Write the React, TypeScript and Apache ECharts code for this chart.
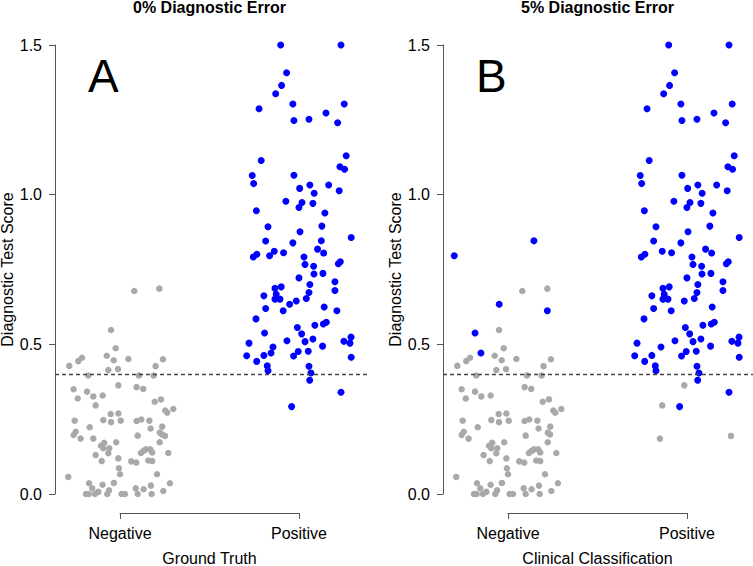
import React, { useEffect, useRef } from "react";
import * as echarts from "echarts";

// ---- data (x = jittered category position: 1 = Negative, 2 = Positive; y = score) ----
// true negatives that keep their class in panel B
const negStay: number[][] = [
  [1.080,0.678],[1.220,0.686],[0.950,0.548],[0.976,0.487],[0.926,0.462],[0.965,0.447],[1.047,0.451],
  [0.717,0.428],[0.767,0.444],[0.788,0.455],[1.240,0.450],[0.935,0.414],[0.989,0.417],[1.199,0.427],
  [0.823,0.396],[1.106,0.396],[1.188,0.396],[1.093,0.357],[1.130,0.351],[0.741,0.350],[0.816,0.342],
  [0.764,0.319],[0.851,0.326],[0.903,0.329],[1.194,0.308],[1.229,0.316],[1.253,0.279],[1.264,0.272],
  [1.298,0.284],[0.747,0.245],[0.907,0.247],[0.948,0.267],[0.991,0.269],[0.950,0.240],[1.004,0.245],
  [1.093,0.244],[1.119,0.249],[1.164,0.245],[0.831,0.223],[1.171,0.219],[1.236,0.225],[0.753,0.208],
  [0.741,0.197],[0.780,0.185],[1.099,0.195],[1.223,0.205],[1.235,0.199],[0.979,0.173],[0.912,0.171],
  [0.894,0.161],[0.907,0.153],[0.940,0.153],[1.222,0.173],[0.864,0.130],[0.935,0.136],[0.991,0.119],
  [0.898,0.110],[1.063,0.109],[1.091,0.105],[1.117,0.137],[1.132,0.144],[1.145,0.149],[1.169,0.149],
  [1.180,0.139],[1.158,0.112],[1.180,0.110],[1.270,0.137],[0.994,0.086],[1.000,0.066],[1.207,0.066],
  [0.711,0.057],[0.827,0.036],[0.845,0.019],[0.903,0.031],[0.966,0.037],[0.879,0.007],[0.939,0.012],
  [0.860,0],[0.810,0],[0.825,0],[0.929,0],[1.009,0],[1.028,0],[1.088,0.019],[1.132,0.016],
  [1.173,0.028],[1.099,0],[1.177,0],[1.242,0.010],[1.279,0.036],
];
// true negatives that are classified Positive in panel B
const negSwitched: number[][] = [[0.991,0.363],[0.864,0.296],[0.851,0.185],[1.251,0.194]];
const negSwitchedJitterB: number[] = [1.985, 1.862, 1.849, 2.246];

// true positives that keep their class in panel B
const posStay: number[][] = [
  [1.898,1.500],[2.235,1.500],[1.931,1.407],[1.903,1.365],[1.870,1.337],[1.777,1.287],[1.966,1.303],
  [2.253,1.303],[1.972,1.248],[2.056,1.252],[2.151,1.273],[2.216,1.240],[1.789,1.114],[2.264,1.130],
  [1.739,1.064],[1.747,1.037],[1.972,1.065],[2.229,1.093],[2.255,1.085],[2.004,1.021],[2.061,1.032],
  [2.085,1.005],[2.166,1.032],[2.225,1.013],[1.927,0.978],[2.017,0.974],[2.000,0.957],[2.078,0.971],
  [1.762,0.946],[2.145,0.939],[1.827,0.893],[2.006,0.876],[2.128,0.895],[2.292,0.857],[1.814,0.845],
  [1.966,0.839],[2.104,0.818],[2.138,0.805],[1.745,0.792],[1.765,0.801],[1.862,0.811],[1.914,0.806],
  [2.028,0.792],[2.034,0.767],[2.082,0.761],[2.084,0.735],[2.134,0.737],[2.231,0.776],[2.220,0.769],
  [2.000,0.722],[2.061,0.700],[2.056,0.673],[2.041,0.653],[2.201,0.709],[2.201,0.680],[1.866,0.687],
  [1.901,0.692],[1.873,0.667],[1.804,0.662],[1.866,0.651],[1.894,0.651],[1.985,0.645],[1.814,0.620],
  [1.912,0.612],[2.141,0.625],[1.760,0.585],[1.991,0.556],[2.089,0.564],[2.136,0.568],[2.153,0.574],
  [2.015,0.535],[1.933,0.512],[2.034,0.509],[2.078,0.518],[1.721,0.504],[1.855,0.491],[1.804,0.463],
  [1.708,0.462],[1.764,0.443],[1.996,0.476],[1.970,0.461],[2.052,0.477],[2.132,0.494],[2.251,0.510],
  [2.285,0.504],[2.291,0.524],[2.292,0.457],[1.823,0.428],[1.827,0.412],[2.056,0.427],[2.067,0.404],
  [2.060,0.380],[2.235,0.340],[1.959,0.292],
];
// true positives that are classified Negative in panel B
const posSwitched: number[][] = [[2.125,0.846],[1.836,0.796],[1.948,0.634],[2.212,0.612],[1.808,0.538],[1.844,0.471]];
const posSwitchedJitterB: number[] = [1.145, 0.70, 0.951, 1.220, 0.816, 0.849];

const categories = ["Negative", "Positive"];
const yTicks = [0, 0.5, 1.0, 1.5];
const threshold = 0.4;
const panelTitles = ["0% Diagnostic Error", "5% Diagnostic Error"];
const panelLetters = ["A", "B"];
const xTitles = ["Ground Truth", "Clinical Classification"];
const yTitle = "Diagnostic Test Score";

const FONT = '"Liberation Sans", Arial, Helvetica, sans-serif';
const GRAY = "#a9a9a9";
const BLUE = "#0000ff";
const AXIS = "#555555";

export default function App() {
  const ref = useRef<HTMLDivElement>(null);
  useEffect(() => {
    if (!ref.current) return;
    const chart = echarts.init(ref.current, undefined, { renderer: "svg" });

    const negA = [...negStay, ...negSwitched];
    const posA = [...posStay, ...posSwitched];
    const negGrayB = negStay;
    const posGrayB = negSwitched.map((p, i) => [negSwitchedJitterB[i], p[1]]);
    const posBlueB = posStay;
    const negBlueB = posSwitched.map((p, i) => [posSwitchedJitterB[i], p[1]]);

    const X_MIN = 0.637, X_MAX = 2.397;
    const OFF = 388;
    const panels = [0, 1];

    const grids: any[] = [];
    const xAxes: any[] = [];
    const yAxes: any[] = [];
    panels.forEach((p) => {
      grids.push({ left: 55 + p * OFF, top: 45, width: 315, height: 449, containLabel: false, outerBoundsMode: "none" });
      grids.push({ left: 120 + p * OFF, top: 45, width: 179, height: 468, containLabel: false, outerBoundsMode: "none" });
      const gi = p * 2;
      xAxes.push({ gridIndex: gi, type: "value", min: X_MIN, max: X_MAX, show: false });
      xAxes.push({
        gridIndex: gi + 1, type: "value", min: 1, max: 2, interval: 1, position: "bottom", show: true,
        axisLine: { show: true, onZero: false, lineStyle: { color: AXIS, width: 1 } },
        axisTick: { show: true, length: 6, lineStyle: { color: AXIS, width: 1 } },
        splitLine: { show: false },
        axisLabel: {
          show: true, showMinLabel: true, showMaxLabel: true, margin: 12,
          fontSize: 16, color: "#000", fontFamily: FONT,
          formatter: (v: number) => categories[Math.round(v) - 1] ?? "",
        },
        name: xTitles[p], nameLocation: "middle", nameGap: 37,
        nameTextStyle: { fontSize: 16, color: "#000", fontFamily: FONT },
      });
      yAxes.push({
        gridIndex: gi, type: "value", min: 0, max: 1.5, interval: 0.5,
        axisLine: { show: true, lineStyle: { color: AXIS, width: 1 } },
        axisTick: { show: true, length: 6, lineStyle: { color: AXIS } },
        splitLine: { show: false },
        axisLabel: {
          margin: 13, fontSize: 16, color: "#000", fontFamily: FONT,
          formatter: (v: number) => (yTicks.includes(v) ? v.toFixed(1) : ""),
        },
        name: yTitle, nameLocation: "middle", nameGap: 37, nameRotate: 90,
        nameTextStyle: { fontSize: 16, color: "#000", fontFamily: FONT },
      });
      yAxes.push({ gridIndex: gi + 1, type: "value", min: 0, max: 1, show: false });
    });

    const scatter = (data: number[][], color: string, axis: number, size: number) => ({
      type: "scatter", xAxisIndex: axis, yAxisIndex: axis, data,
      symbol: "circle", symbolSize: size, silent: true,
      itemStyle: { color, opacity: 1 },
    });
    const thresholdLine = (axis: number) => ({
      type: "line", xAxisIndex: axis, yAxisIndex: axis, data: [], silent: true,
      markLine: {
        silent: true, symbol: ["none", "none"], label: { show: false },
        lineStyle: { color: "#444", type: [4, 3], width: 1.3 },
        data: [{ yAxis: threshold }],
      },
    });

    const series: any[] = [
      thresholdLine(0),
      scatter(negA, GRAY, 0, 6.5),
      scatter(posA, BLUE, 0, 7),
      thresholdLine(2),
      scatter(negGrayB, GRAY, 2, 6.5),
      scatter(posGrayB, GRAY, 2, 6.5),
      scatter(posBlueB, BLUE, 2, 7),
      scatter(negBlueB, BLUE, 2, 7),
    ];

    const graphics: any[] = [];
    panels.forEach((p) => {
      graphics.push({
        type: "text", x: 209.5 + p * OFF, y: 7.5, silent: true,
        style: { text: panelTitles[p], fontSize: 16, fontWeight: "bold", fontFamily: FONT, fill: "#000", align: "center", verticalAlign: "middle" },
      });
      graphics.push({
        type: "text", x: 88 + p * OFF, y: 75.5, silent: true,
        style: { text: panelLetters[p], fontSize: 46, fontFamily: FONT, fill: "#000", align: "left", verticalAlign: "middle" },
      });
    });

    chart.setOption({
      animation: false,
      textStyle: { fontFamily: FONT },
      grid: grids,
      xAxis: xAxes,
      yAxis: yAxes,
      series,
      graphic: graphics,
    });
    return () => chart.dispose();
  }, []);
  return (
    <div
      ref={ref}
      style={{ position: "absolute", left: 0, top: 0, width: 753, height: 566, background: "#fff" }}
    />
  );
}
